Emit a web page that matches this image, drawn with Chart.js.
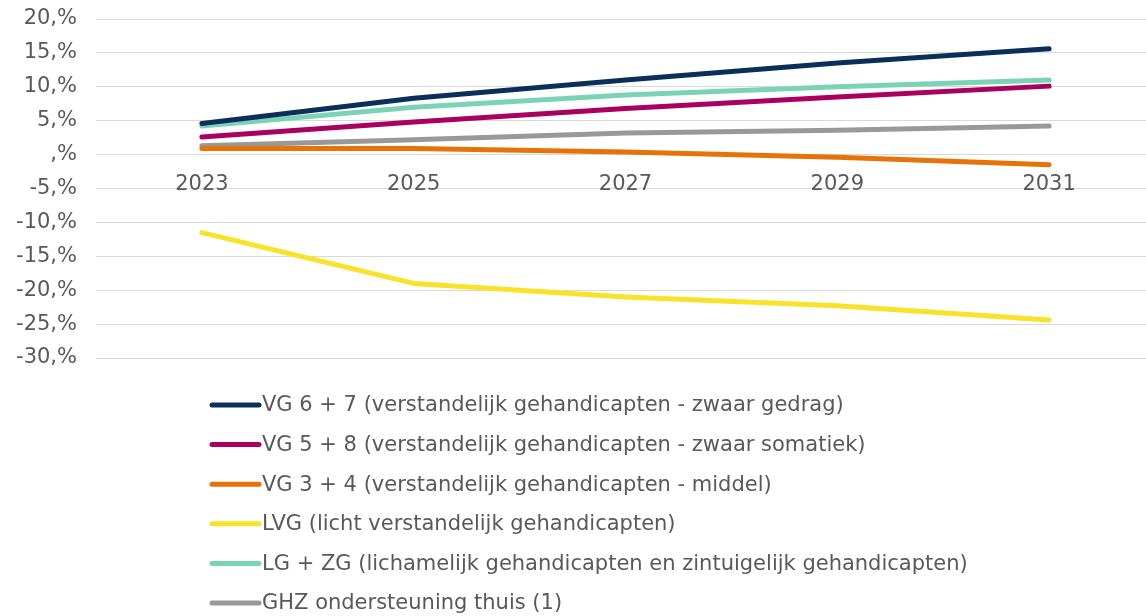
<!DOCTYPE html>
<html lang="nl">
<head>
<meta charset="utf-8">
<title>Ontwikkeling GHZ</title>
<script src="https://cdn.jsdelivr.net/npm/chart.js@4.4.1/dist/chart.umd.min.js"></script>
<style>
  html, body { margin: 0; padding: 0; background: #fff; overflow: hidden; }
  #wrap { width: 1160px; height: 616px; }
</style>
</head>
<body>
<div id="wrap"><canvas id="chartGhz" width="1160" height="616"></canvas></div>
<script>
const jaren = ['2023', '2025', '2027', '2029', '2031'];

const vg67 = [4.6, 8.3, 11.0, 13.5, 15.6];
const vg58 = [2.6, 4.8, 6.8, 8.5, 10.1];
const vg34 = [0.9, 0.9, 0.4, -0.4, -1.5];
const lvg = [-11.5, -19.0, -21.0, -22.3, -24.4];
const lgzg = [4.2, 7.0, 8.8, 10.0, 11.0];
const ghzThuis = [1.3, 2.2, 3.2, 3.6, 4.2];

const reeksen = [
    { label: 'VG 6 + 7 (verstandelijk gehandicapten - zwaar gedrag)', data: vg67, kleur: '#0b2f5b' },
    { label: 'VG 5 + 8 (verstandelijk gehandicapten - zwaar somatiek)', data: vg58, kleur: '#aa0062' },
    { label: 'VG 3 + 4 (verstandelijk gehandicapten - middel)', data: vg34, kleur: '#e77308' },
    { label: 'LVG (licht verstandelijk gehandicapten)', data: lvg, kleur: '#fae22a' },
    { label: 'LG + ZG (lichamelijk gehandicapten en zintuigelijk gehandicapten)', data: lgzg, kleur: '#7bd3b7' },
    { label: 'GHZ ondersteuning thuis (1)', data: ghzThuis, kleur: '#999999' },
];

const tekstKleur = '#595959';
const lettertype = "'DejaVu Sans', sans-serif";

// legenda onder de grafiek, één reeks per regel
const legendaKolom = {
    id: 'legendaKolom',
    afterDraw(chart) {
        const ctx = chart.ctx;
        const x0 = 210;
        const yStart = 405;
        ctx.save();
        ctx.font = '21px ' + lettertype;
        ctx.textBaseline = 'middle';
        ctx.fillStyle = tekstKleur;
        chart.data.datasets.forEach((ds, i) => {
            const y = yStart + i * 39.6;
            ctx.beginPath();
            ctx.strokeStyle = ds.borderColor;
            ctx.lineWidth = 5;
            ctx.lineCap = 'round';
            ctx.moveTo(x0 + 2, y);
            ctx.lineTo(x0 + 49, y);
            ctx.stroke();
            ctx.fillText(ds.label, x0 + 52, y + 1);
        });
        ctx.restore();
    }
};

new Chart(document.getElementById('chartGhz'), {
    type: 'line',
    data: {
        labels: jaren,
        datasets: reeksen.map(r => ({
            label: r.label,
            data: r.data,
            borderColor: r.kleur,
            backgroundColor: r.kleur,
            borderWidth: 5,
            borderCapStyle: 'round',
            borderJoinStyle: 'round',
            pointRadius: 0,
            tension: 0,
        })),
    },
    options: {
        responsive: false,
        animation: false,
        layout: { padding: { top: 19, bottom: 258, left: 0, right: 5 } },
        plugins: {
            legend: { display: false },
            tooltip: { enabled: false },
        },
        scales: {
            x: {
                type: 'category',
                position: { y: 0 },
                offset: true,
                grid: { display: false, drawTicks: false },
                border: { display: false },
                ticks: { color: tekstKleur, font: { family: lettertype, size: 21 }, padding: 17 },
            },
            y: {
                min: -30,
                max: 20,
                afterFit: (scale) => { scale.width = 96; },
                // onzichtbare tickstreepjes geven ruimte tussen labels en raster
                grid: { color: '#d9d9d9', lineWidth: 1, drawTicks: true, tickLength: 19, tickColor: 'rgba(0,0,0,0)' },
                border: { display: false },
                ticks: {
                    stepSize: 5,
                    padding: 0,
                    color: tekstKleur,
                    font: { family: lettertype, size: 21 },
                    callback: (v) => (v === 0 ? '' : v) + ',%',
                },
            },
        },
    },
    plugins: [legendaKolom],
});
</script>
</body>
</html>
